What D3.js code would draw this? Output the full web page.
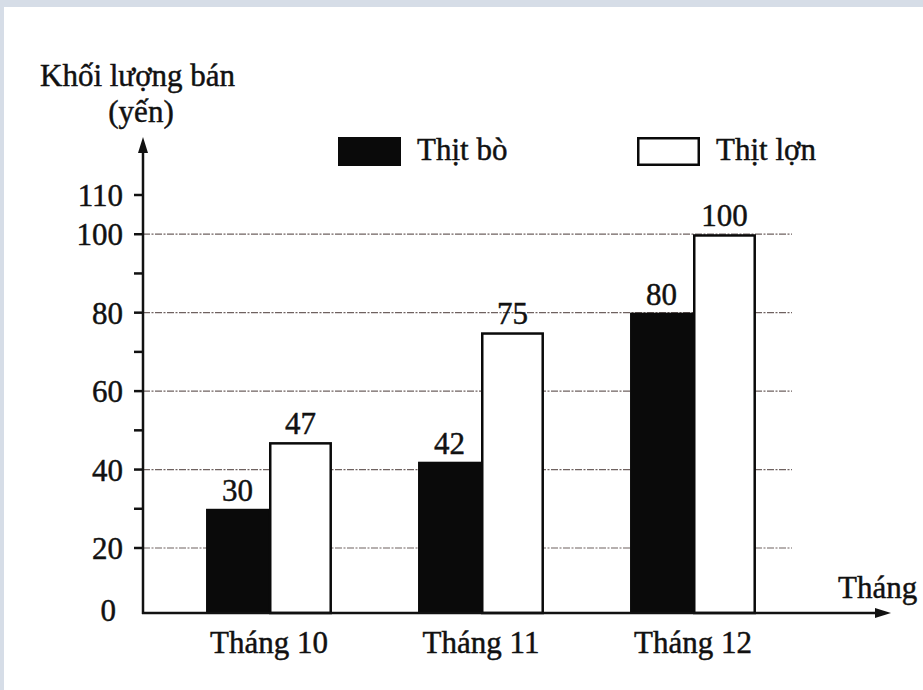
<!DOCTYPE html>
<html>
<head>
<meta charset="utf-8">
<script src="https://cdn.jsdelivr.net/npm/d3@7"></script>
<style>
  html, body { margin: 0; padding: 0; background: #d6dde7; }
  svg text { font-family: "Liberation Serif", Tinos, "Times New Roman", "DejaVu Serif", serif; fill: #111; stroke: #111; stroke-width: 0.45px; }
</style>
</head>
<body>
<div id="chart"></div>
<script>
var months = ["Tháng 10", "Tháng 11", "Tháng 12"];
var series = ["Thịt bò", "Thịt lợn"];
var beef = [30, 42, 80];
var pork = [47, 75, 100];
var yLabels = [20, 40, 60, 80, 100, 110];
var yTicks = [20, 30, 40, 50, 60, 70, 80, 90, 100, 110];
var gridValues = [20, 40, 60, 80, 100];
var seriesColor = ["#0a0a0a", "#ffffff"];

var width = 923, height = 690;
var fontFam = "'Liberation Serif', Tinos, 'Times New Roman', 'DejaVu Serif', serif";
var svg = d3.select("#chart").append("svg")
	.attr("width", width)
	.attr("height", height)
	.attr("font-family", fontFam);

// paper with the blue-grey strip of the scan on top and left
svg.append("rect").attr("width", width).attr("height", height).attr("fill", "#d6dde7");
svg.append("rect").attr("x", 4).attr("y", 7).attr("width", width - 4).attr("height", height - 7).attr("fill", "#ffffff");

var axisX = 143, axisY = 613;

// the book's axis is squeezed between 0 and 20, so the scale bends there
var y = d3.scaleLinear().domain([0, 20, 110]).range([axisY, 548, 195]);
var x = d3.scaleBand().domain(months).range([163, 799]).paddingInner(0.406).paddingOuter(0.203);
var xs = d3.scaleBand().domain(series).range([0, x.bandwidth()]);

// dashed guide lines
svg.selectAll(".grid").data(gridValues).enter().append("line")
	.attr("class", "grid")
	.attr("x1", axisX).attr("x2", 792)
	.attr("y1", function(d){ return y(d); })
	.attr("y2", function(d){ return y(d); })
	.attr("stroke", "#6f6260")
	.attr("stroke-width", 1.2)
	.attr("stroke-dasharray", "7,1.5,2,1.5");

// bars
var groups = svg.selectAll(".month").data(months).enter().append("g")
	.attr("class", "month")
	.attr("transform", function(d){ return "translate(" + x(d) + ",0)"; });

groups.each(function(m, i){
	var g = d3.select(this);
	var vals = [beef[i], pork[i]];
	series.forEach(function(s, j){
		var v = vals[j];
		var sw = j == 1 ? 2.5 : 0;
		g.append("rect")
			.attr("x", xs(s) + sw / 2)
			.attr("y", y(v) + sw / 2)
			.attr("width", xs.bandwidth() - sw)
			.attr("height", y(0) - y(v) - sw / 2)
			.attr("fill", seriesColor[j])
			.attr("stroke", j == 1 ? "#0a0a0a" : "none")
			.attr("stroke-width", sw);
		g.append("text")
			.attr("x", xs(s) + xs.bandwidth() / 2)
			.attr("y", y(v) - 8)
			.attr("text-anchor", "middle")
			.style("font-size", "31px")
			.text(v);
	});
});

// month labels
svg.selectAll(".mlabel").data(months).enter().append("text")
	.attr("class", "mlabel")
	.attr("x", function(d){ return x(d) + x.bandwidth() / 2; })
	.attr("y", 653)
	.attr("text-anchor", "middle")
	.style("font-size", "31px")
	.text(function(d){ return d; });

// y ticks and labels
svg.selectAll(".ytick").data(yTicks).enter().append("line")
	.attr("class", "ytick")
	.attr("x1", 134).attr("x2", axisX)
	.attr("y1", function(d){ return y(d); })
	.attr("y2", function(d){ return y(d); })
	.attr("stroke", "#111").attr("stroke-width", 2.5);

svg.selectAll(".ylabel").data(yLabels).enter().append("text")
	.attr("class", "ylabel")
	.attr("x", 123)
	.attr("y", function(d){ return y(d) + 11; })
	.attr("text-anchor", "end")
	.style("font-size", "31px")
	.text(function(d){ return d; });

svg.append("text").attr("x", 116).attr("y", axisY + 8)
	.attr("text-anchor", "end").style("font-size", "31px").text(0);

// axes with arrows
svg.append("line").attr("x1", axisX).attr("x2", axisX).attr("y1", axisY + 1).attr("y2", 148)
	.attr("stroke", "#111").attr("stroke-width", 2.5);
svg.append("path").attr("d", "M" + axisX + ",137 L" + (axisX - 5) + ",153 L" + (axisX + 5) + ",153 Z").attr("fill", "#111");
svg.append("line").attr("x1", axisX - 1).attr("x2", 878).attr("y1", axisY).attr("y2", axisY)
	.attr("stroke", "#111").attr("stroke-width", 2.5);
svg.append("path").attr("d", "M891," + axisY + " L875," + (axisY - 5) + " L875," + (axisY + 5) + " Z").attr("fill", "#111");

// axis titles
svg.append("text").attr("x", 40).attr("y", 86).style("font-size", "31px").text("Khối lượng bán");
svg.append("text").attr("x", 141).attr("y", 122).attr("text-anchor", "middle").style("font-size", "31px").text("(yến)");
svg.append("text").attr("x", 838).attr("y", 598).style("font-size", "31px").text("Tháng");

// legend
var legX = [338, 637];
series.forEach(function(s, j){
	svg.append("rect")
		.attr("x", legX[j] + (j == 1 ? 1.25 : 0))
		.attr("y", 137 + (j == 1 ? 1.25 : 0))
		.attr("width", 63 - (j == 1 ? 2.5 : 0))
		.attr("height", 29 - (j == 1 ? 2.5 : 0))
		.attr("fill", seriesColor[j])
		.attr("stroke", j == 1 ? "#0a0a0a" : "none")
		.attr("stroke-width", j == 1 ? 2.5 : 0);
	svg.append("text")
		.attr("x", legX[j] + 79)
		.attr("y", 160)
		.style("font-size", "31px")
		.text(s);
});
</script>
</body>
</html>
